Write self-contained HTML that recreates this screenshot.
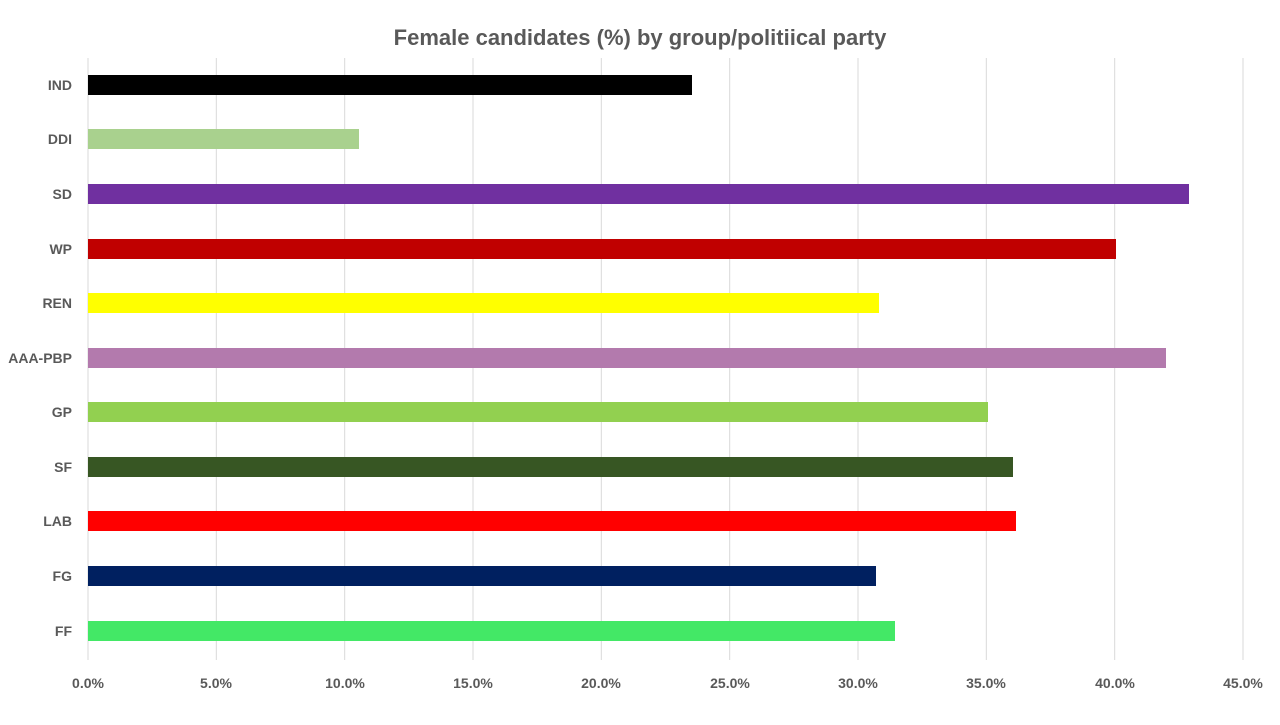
<!DOCTYPE html>
<html><head><style>
body{margin:0;background:#fff;}
svg text{font-family:"Liberation Sans",sans-serif;font-weight:bold;fill:#595959;}
</style></head><body>
<svg width="1280" height="720" xmlns="http://www.w3.org/2000/svg">
<text x="640" y="45" text-anchor="middle" font-size="22">Female candidates (%) by group/politiical party</text>
<g stroke="#d9d9d9" stroke-width="1">
<line x1="88" y1="58" x2="88" y2="660"/><line x1="216.3" y1="58" x2="216.3" y2="660"/><line x1="344.7" y1="58" x2="344.7" y2="660"/><line x1="473" y1="58" x2="473" y2="660"/><line x1="601.3" y1="58" x2="601.3" y2="660"/><line x1="729.7" y1="58" x2="729.7" y2="660"/><line x1="858" y1="58" x2="858" y2="660"/><line x1="986.3" y1="58" x2="986.3" y2="660"/><line x1="1114.7" y1="58" x2="1114.7" y2="660"/><line x1="1243" y1="58" x2="1243" y2="660"/>
</g>
<g font-size="14" text-anchor="middle">
<text x="88" y="688">0.0%</text><text x="216" y="688">5.0%</text><text x="345" y="688">10.0%</text><text x="473" y="688">15.0%</text><text x="601" y="688">20.0%</text><text x="730" y="688">25.0%</text><text x="858" y="688">30.0%</text><text x="986" y="688">35.0%</text><text x="1115" y="688">40.0%</text><text x="1243" y="688">45.0%</text>
</g>
<g>
<rect x="88" y="75" width="604" height="20" fill="#000"/>
<rect x="88" y="129" width="271" height="20" fill="#a9d18e"/>
<rect x="88" y="184" width="1101" height="20" fill="#7030a0"/>
<rect x="88" y="239" width="1028" height="20" fill="#c00000"/>
<rect x="88" y="293" width="791" height="20" fill="#ffff00"/>
<rect x="88" y="348" width="1078" height="20" fill="#b37aad"/>
<rect x="88" y="402" width="900" height="20" fill="#92d050"/>
<rect x="88" y="457" width="925" height="20" fill="#375623"/>
<rect x="88" y="511" width="928" height="20" fill="#ff0000"/>
<rect x="88" y="566" width="788" height="20" fill="#002060"/>
<rect x="88" y="621" width="807" height="20" fill="#43e866"/>
</g>
<g font-size="14" text-anchor="end">
<text x="72" y="90">IND</text><text x="72" y="144">DDI</text><text x="72" y="199">SD</text><text x="72" y="254">WP</text><text x="72" y="308">REN</text><text x="72" y="363">AAA-PBP</text><text x="72" y="417">GP</text><text x="72" y="472">SF</text><text x="72" y="526">LAB</text><text x="72" y="581">FG</text><text x="72" y="636">FF</text>
</g>
</svg>
</body></html>
